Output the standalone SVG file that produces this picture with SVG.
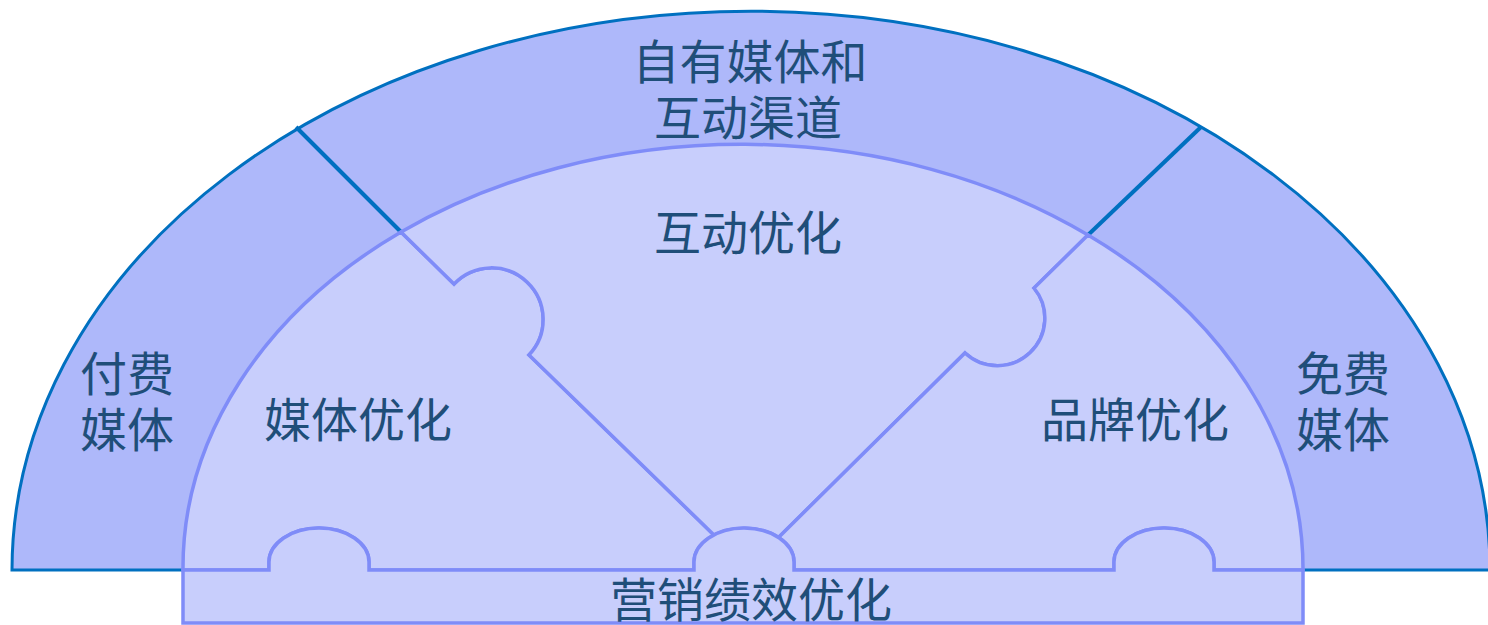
<svg xmlns="http://www.w3.org/2000/svg" width="1488" height="625" viewBox="0 0 1488 625">
  <style>
    .outer { fill: #AEB8FA; stroke: #0070C0; stroke-width: 3; }
    .divider { fill: none; stroke: #0070C0; stroke-width: 4; }
    .piece { fill: #C8CEFC; stroke: #7F8CF8; stroke-width: 3.5; stroke-linejoin: miter; }
    .label { font-family: "Noto Sans CJK SC", "Noto Sans", sans-serif; font-size: 47px; fill: #1F4E79; text-anchor: middle; }
  </style>
  <rect width="1488" height="625" fill="#FFFFFF"/>
  <g id="outer-band">
    <path class="outer" d="M12,570 A739,559 0 0 1 1490,570 Z"/>
  </g>
  <g id="connectors">
    <path class="divider" d="M296,127 L401,232"/>
    <path class="divider" d="M1201,127 L1088,235"/>
  </g>
  <g id="paid-media">
    <text class="label" x="127" y="391">付费</text>
    <text class="label" x="127" y="447">媒体</text>
  </g>
  <g id="owned-media">
    <text class="label" x="750" y="79">自有媒体和</text>
    <text class="label" x="748" y="135">互动渠道</text>
  </g>
  <g id="free-media">
    <text class="label" x="1343" y="391">免费</text>
    <text class="label" x="1343" y="447">媒体</text>
  </g>
  <g id="media-optimization">
    <path class="piece" d="M183,570 A560,424 0 0 1 401,232 L454,284 A51.6,51.6 0 0 1 529,355 L714,535 A50,34 0 0 0 694,562 L694,570 L369,570 L369,562 A50,34 0 0 0 269,562 L269,570 Z"/>
    <text class="label" x="358" y="437">媒体优化</text>
  </g>
  <g id="interaction-optimization">
    <path class="piece" d="M401,232 A560,424 0 0 1 1088,235 L1034,288 A47.5,47.5 0 0 1 965,353 L778.5,537.5 A50,34 0 0 0 714,535 L529,355 A51.6,51.6 0 0 0 454,284 Z"/>
    <text class="label" x="748" y="250">互动优化</text>
  </g>
  <g id="brand-optimization">
    <path class="piece" d="M1088,235 A560,424 0 0 1 1303,570 L1214,570 L1214,562 A50,34 0 0 0 1114,562 L1114,570 L794,570 L794,562 A50,34 0 0 0 778.5,537.5 L965,353 A47.5,47.5 0 0 0 1034,288 Z"/>
    <text class="label" x="1135" y="437">品牌优化</text>
  </g>
  <g id="performance-optimization">
    <path class="piece" d="M183,570 H269 V562 A50,34 0 0 1 369,562 V570 H694 V562 A50,34 0 0 1 794,562 V570 H1114 V562 A50,34 0 0 1 1214,562 V570 H1303 V623 H183 Z"/>
    <text class="label" x="751" y="617">营销绩效优化</text>
  </g>
</svg>
